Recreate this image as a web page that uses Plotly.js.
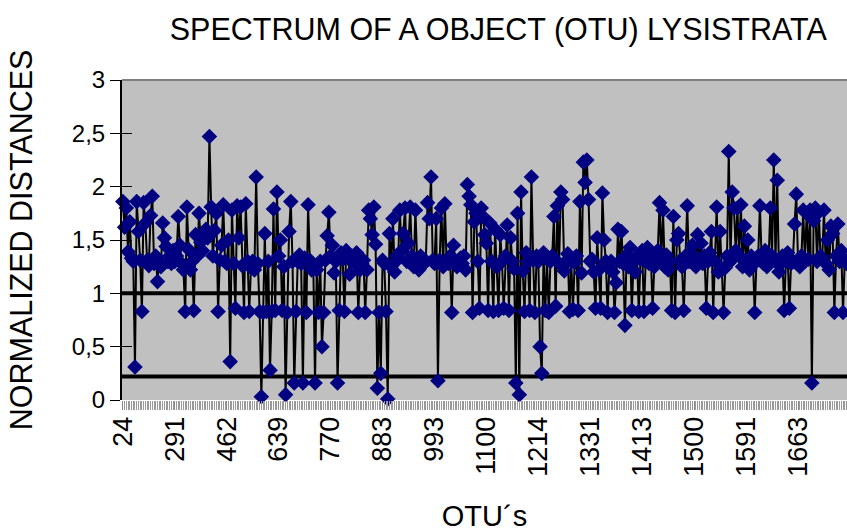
<!DOCTYPE html>
<html>
<head>
<meta charset="utf-8">
<script src="https://cdn.plot.ly/plotly-3.0.1.min.js"></script>
<style>html,body{margin:0;padding:0;background:#fff;}#chart{width:847px;height:532px;}</style>
</head>
<body>
<div id="chart"></div>
<script>
// OTU labels shown on the category axis (every 30th category)
var tickLabels = ['24','291','462','639','770','883','993','1100','1214','1331','1413','1500','1591','1663'];
var labelStep = 30;

// Normalized distances in order
var distances = [
1.86,1.62,1.80,1.39,1.67,1.33,1.30,0.31,1.86,1.58,1.31,0.83,1.85,1.66,1.31,1.26,1.73,1.91,1.28,1.35,1.11,1.30,1.25,1.66,1.52,1.44,1.30,1.35,1.28,1.40,
1.30,1.35,1.72,1.45,1.28,1.22,0.83,1.81,1.41,1.22,1.30,0.84,1.55,1.35,1.75,1.48,1.40,1.55,1.60,1.52,2.47,1.81,1.35,1.59,1.75,0.83,1.31,1.45,1.83,1.30,
1.28,1.50,0.36,1.78,1.28,0.86,1.82,1.52,1.81,1.26,0.82,1.84,1.30,0.83,1.24,1.30,1.22,2.09,1.28,0.83,0.03,0.82,1.56,0.83,1.30,0.28,0.83,1.79,0.84,1.95,
1.35,1.50,0.84,1.25,0.05,0.82,1.58,1.86,1.30,0.16,0.83,1.30,1.36,1.28,0.16,1.33,0.82,1.83,1.31,1.22,1.27,0.16,1.22,0.82,1.30,0.50,0.82,1.31,1.54,1.76,
1.35,1.45,1.19,1.30,0.16,0.84,1.38,1.32,0.83,1.40,1.36,1.18,1.30,1.35,1.28,1.38,0.82,1.22,1.28,1.31,0.82,1.22,1.78,1.70,1.55,1.81,1.46,0.11,0.82,0.25,
1.31,1.28,0.83,0.01,1.56,1.25,1.70,1.20,1.35,1.32,1.78,1.40,1.56,1.80,1.30,1.47,1.81,1.35,1.25,1.78,1.30,1.22,1.35,1.32,1.28,1.30,1.85,1.70,2.09,1.31,
1.28,1.70,0.18,1.31,1.80,1.25,1.84,1.30,1.28,1.35,0.82,1.45,1.31,1.25,1.30,1.33,1.28,1.35,1.22,2.02,1.91,1.83,0.82,1.67,1.75,1.30,0.86,1.80,1.72,1.55,
1.47,0.84,1.66,1.30,0.83,1.60,1.25,0.84,1.55,1.30,0.86,1.35,1.64,0.84,1.52,1.30,1.23,0.16,1.75,0.05,1.95,1.21,0.83,1.38,1.30,0.84,2.09,1.31,0.82,1.35,
1.30,0.50,0.25,1.38,0.84,1.32,0.82,1.30,1.35,1.72,0.88,1.82,1.28,1.95,1.88,1.21,1.30,1.37,0.83,1.30,0.85,1.29,1.35,0.84,1.86,1.19,2.23,2.04,2.25,1.88,
1.30,1.32,1.20,0.86,1.52,1.22,0.86,1.94,1.50,1.30,0.82,1.25,1.30,1.20,0.82,1.10,1.60,1.30,1.58,1.28,0.70,1.36,1.25,1.43,0.84,1.30,1.20,1.35,0.83,1.32,
1.40,0.83,1.30,1.43,1.28,1.35,0.86,1.25,1.30,1.40,1.85,1.30,1.78,1.25,1.36,1.22,1.30,0.84,1.72,0.82,1.50,1.56,1.31,1.25,0.84,1.35,1.82,1.30,1.38,1.45,
1.30,1.25,1.55,1.32,1.47,1.28,1.35,0.86,1.30,1.38,1.58,0.82,1.30,1.81,1.20,1.58,1.22,0.82,1.24,1.35,2.33,1.30,1.95,1.80,1.40,1.80,1.35,1.83,1.25,1.63,
1.30,1.50,1.22,1.35,1.28,0.82,1.30,1.35,1.82,1.32,1.28,1.40,1.25,1.30,1.80,1.35,2.25,1.30,2.06,1.20,1.28,1.35,0.84,1.30,1.38,0.86,1.28,1.30,1.65,1.93,
1.30,1.25,1.35,1.78,1.30,1.75,1.32,1.78,0.16,1.68,1.80,1.30,1.76,1.35,1.32,1.78,1.28,1.50,1.22,1.63,1.56,0.82,1.35,1.65,1.30,1.40,0.82,1.32,1.28
];

// Reference levels drawn as thick horizontal lines
var referenceLevels = [1, 0.22];

var idx = distances.map(function(_, i){ return i; });
var tickVals = tickLabels.map(function(_, i){ return i * labelStep; });

var traces = [{
  x: idx, y: distances, type: 'scatter', mode: 'lines+markers',
  line: {color: '#000000', width: 2},
  marker: {symbol: 'diamond', size: 12, color: '#000080', line: {width: 0}},
  cliponaxis: false, hoverinfo: 'y'
}, {
  // carries the inner half of the crossing y ticks
  x: [], y: [], type: 'scatter', mode: 'lines', yaxis: 'y2', hoverinfo: 'skip'
}];

var shapes = referenceLevels.map(function(v){
  return {type: 'line', xref: 'x domain', yref: 'y', x0: 0, x1: 1, y0: v, y1: v,
          line: {color: '#000000', width: 4}, layer: 'below'};
});
shapes.push({type: 'line', xref: 'x domain', yref: 'y domain', x0: 0, x1: 1, y0: 1, y1: 1,
             line: {color: '#808080', width: 2}, layer: 'above'});

var fontFam = '"Liberation Sans", Arial, sans-serif';

var layout = {
  width: 847, height: 532,
  margin: {l: 122, r: 0, t: 80, b: 132, pad: 0},
  paper_bgcolor: '#ffffff', plot_bgcolor: '#c0c0c0',
  separators: ',.',
  showlegend: false,
  font: {family: fontFam, color: '#000000', size: 24},
  title: {text: 'SPECTRUM OF A OBJECT (OTU) LYSISTRATA', font: {family: fontFam, size: 30.5, color: '#000'},
          xref: 'paper', x: 0.519, xanchor: 'center', yref: 'container', y: 0.944, yanchor: 'middle'},
  xaxis: {
    range: [-0.5, idx.length - 0.7],
    tickmode: 'array', tickvals: tickVals, ticktext: tickLabels, tickangle: -90,
    ticks: 'outside', ticklen: 9, tickcolor: '#888888', tickwidth: 1,
    ticklabelstandoff: -4,
    minor: {tickmode: 'linear', tick0: 0, dtick: 1, ticks: 'outside', ticklen: 9, tickcolor: '#999999', tickwidth: 1},
    showgrid: false, zeroline: false, showline: false,
    tickfont: {family: fontFam, size: 27, color: '#000'},
    title: {text: 'OTU´s', font: {family: fontFam, size: 29, color: '#000'}, standoff: 36},
    automargin: false
  },
  yaxis: {
    range: [0, 3], dtick: 0.5, tick0: 0,
    ticks: 'outside', ticklen: 10, tickcolor: '#000', tickwidth: 1,
    showline: true, linecolor: '#000', linewidth: 2,
    showgrid: false, zeroline: false,
    tickfont: {family: fontFam, size: 24, color: '#000'},
    title: {text: 'NORMALIZED DISTANCES', font: {family: fontFam, size: 30.5, color: '#000'}, standoff: 30},
    automargin: false
  },
  yaxis2: {
    overlaying: 'y', side: 'left', range: [0, 3], dtick: 0.5, tick0: 0,
    ticks: 'inside', ticklen: 10, tickcolor: '#000', tickwidth: 1,
    showticklabels: false, showline: false, showgrid: false, zeroline: false
  },
  shapes: shapes
};

Plotly.newPlot('chart', traces, layout, {staticPlot: true, displayModeBar: false});
</script>
</body>
</html>
